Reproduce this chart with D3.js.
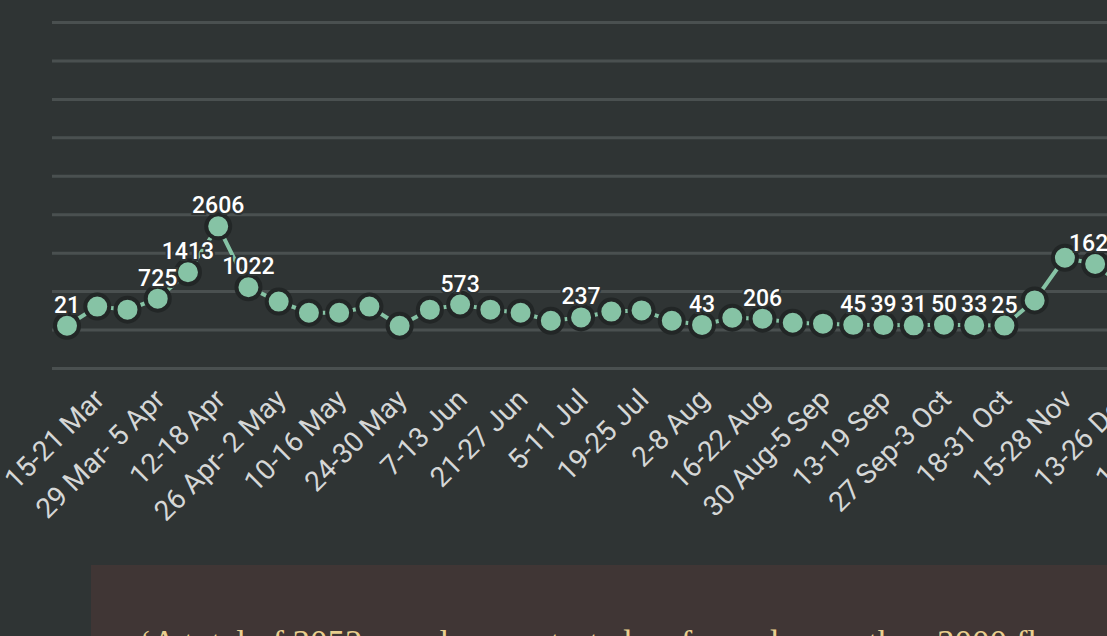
<!DOCTYPE html>
<html>
<head>
<meta charset="utf-8">
<script src="https://cdn.jsdelivr.net/npm/d3@7"></script>
<style>
  body { margin: 0; background: #2f3434; overflow: hidden; }
</style>
</head>
<body>
<div id="chart"></div>
<script>
// DATA
let periods = ["15-21 Mar", "22-28 Mar", "29 Mar- 5 Apr", "6-11 Apr", "12-18 Apr", "19-25 Apr",
  "26 Apr- 2 May", "3-9 May", "10-16 May", "17-23 May", "24-30 May", "31 May-6 Jun",
  "7-13 Jun", "14-20 Jun", "21-27 Jun", "28 Jun-4 Jul", "5-11 Jul", "12-18 Jul",
  "19-25 Jul", "26 Jul-1 Aug", "2-8 Aug", "9-15 Aug", "16-22 Aug", "23-29 Aug",
  "30 Aug-5 Sep", "6-12 Sep", "13-19 Sep", "20-26 Sep", "27 Sep-3 Oct", "4-17 Oct",
  "18-31 Oct", "1-14 Nov", "15-28 Nov", "29 Nov-12 Dec", "13-26 Dec", "27 Dec-9 Jan",
  "10-23 Jan"];
let counts = [21, 520, 440, 725, 1413, 2606, 1022, 650, 360, 360, 520, 20,
  440, 573, 440, 360, 150, 237, 390, 420, 150, 43, 230, 206,
  100, 75, 45, 39, 31, 50, 33, 25, 680, 1790, 1626, 1000, 800];
// which points carry a value label
let labelled = [0, 3, 4, 5, 6, 13, 17, 21, 23, 26, 27, 28, 29, 30, 31, 34];
let gridValues = [-1000, 0, 1000, 2000, 3000, 4000, 5000, 6000, 7000, 8000];

let widthh = 1107, heightt = 636;

let svg = d3.select('#chart')
  .append('svg')
  .attr('width', widthh)
  .attr('height', heightt)
  .style('display', 'block')
  .style('background-color', '#2f3434');

let xScale = d3.scalePoint()
  .domain(periods)
  .range([67, 67 + 30.24 * (periods.length - 1)]);

let yScale = d3.scaleLinear()
  .domain([-1000, 8000])
  .range([368, 22]);

// gridlines
svg.append('g')
  .attr('transform', 'translate(52,0)')
  .call(d3.axisLeft(yScale).tickValues(gridValues).tickSize(-1200).tickFormat(''))
  .call(g => g.select('.domain').remove())
  .call(g => g.selectAll('line').attr('stroke', '#4a5050').attr('stroke-width', 3));

// x labels, every other period
svg.append('g')
  .selectAll('text')
  .data(periods.filter((d, i) => i % 2 === 0))
  .enter()
  .append('text')
  .attr('transform', d => `translate(${xScale(d) + 39}, 401) rotate(-45)`)
  .attr('text-anchor', 'end')
  .style('font-family', 'Roboto, sans-serif')
  .style('font-size', '28px')
  .style('fill', '#d5d7d7')
  .text(d => d);

let series = svg.append('g').attr('transform', 'translate(0,-3)');

let line = d3.line()
  .x((d, i) => xScale(periods[i]))
  .y(d => yScale(d));

series.append('path')
  .datum(counts)
  .attr('d', line)
  .attr('fill', 'none')
  .attr('stroke', '#86c3a5')
  .attr('stroke-width', 4);

series.selectAll('circle')
  .data(counts)
  .enter()
  .append('circle')
  .attr('cx', (d, i) => xScale(periods[i]))
  .attr('cy', d => yScale(d))
  .attr('r', 12)
  .style('fill', '#86c3a5')
  .style('stroke', '#222626')
  .style('stroke-width', 4);

series.selectAll('text.val')
  .data(labelled)
  .enter()
  .append('text')
  .attr('class', 'val')
  .attr('x', i => xScale(periods[i]))
  .attr('y', i => yScale(counts[i]) - 13)
  .attr('text-anchor', 'middle')
  .style('font-family', 'Roboto, sans-serif')
  .style('font-size', '23px')
  .style('font-weight', 500)
  .style('fill', '#ffffff')
  .style('stroke', '#2f3434')
  .style('stroke-width', 4)
  .style('paint-order', 'stroke')
  .text(i => counts[i]);

// quote box underneath
svg.append('rect')
  .attr('x', 91)
  .attr('y', 565)
  .attr('width', widthh)
  .attr('height', 100)
  .style('fill', '#403635');

svg.append('text')
  .attr('x', 140)
  .attr('y', 655)
  .style('font-family', '"Liberation Serif", serif')
  .style('font-size', '35px')
  .style('fill', '#e9cf8f')
  .text('\u2018A total of 3052 people were tested so far and more than 3000 fl');
</script>
</body>
</html>
